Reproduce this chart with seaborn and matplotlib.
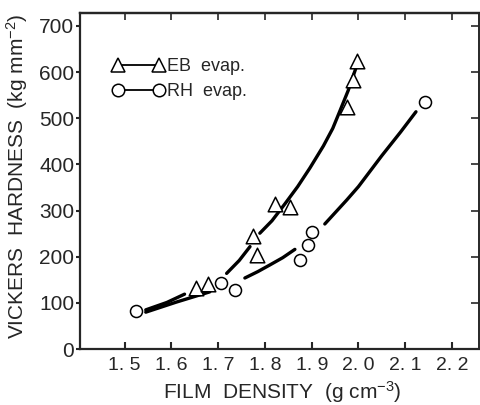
import matplotlib
matplotlib.use("Agg")
import matplotlib.pyplot as plt
from matplotlib.lines import Line2D
import pandas as pd
import seaborn as sns

eb_density = [1.653, 1.678, 1.774, 1.783, 1.821, 1.853, 1.976, 1.989, 1.997]
eb_hardness = [133, 140, 245, 204, 314, 308, 524, 583, 623]
rh_density = [1.524, 1.707, 1.736, 1.875, 1.893, 1.900, 2.142]
rh_hardness = [82, 143, 128, 193, 225, 254, 536]

# hand-drawn guide curves, broken where they pass the markers
eb_curve_x = [1.545, 1.590, 1.628,
              1.718, 1.745, 1.768,
              1.789, 1.815, 1.843, 1.870, 1.896, 1.925, 1.945, 1.960, 1.978, 1.995]
eb_curve_y = [85, 101, 119,
              164, 192, 222,
              251, 278, 315, 352, 392, 440, 478, 515, 560, 610]
eb_curve_seg = [0, 0, 0, 1, 1, 1, 2, 2, 2, 2, 2, 2, 2, 2, 2, 2]
rh_curve_x = [1.545, 1.611, 1.682,
              1.757, 1.785, 1.810, 1.838, 1.864,
              1.928, 1.975, 2.000, 2.050, 2.090, 2.123]
rh_curve_y = [80, 102, 124,
              154, 168, 182, 198, 216,
              271, 323, 352, 419, 470, 514]
rh_curve_seg = [0, 0, 0, 1, 1, 1, 1, 1, 2, 2, 2, 2, 2, 2]

x_ticks = [1.5, 1.6, 1.7, 1.8, 1.9, 2.0, 2.1, 2.2]
x_ticklabels = ["1. 5", "1. 6", "1. 7", "1. 8", "1. 9", "2. 0", "2. 1", "2. 2"]
y_ticks = [0, 100, 200, 300, 400, 500, 600, 700]

sns.set_style("ticks")
plt.rcParams["font.family"] = ["Liberation Sans", "DejaVu Sans"]
plt.rcParams["mathtext.default"] = "regular"

fig = plt.figure(figsize=(4.81, 4.05), dpi=100)
ax = fig.add_axes([0.166, 0.138, 0.830, 0.830])

eb_curve = pd.DataFrame({"x": eb_curve_x, "y": eb_curve_y, "seg": eb_curve_seg})
rh_curve = pd.DataFrame({"x": rh_curve_x, "y": rh_curve_y, "seg": rh_curve_seg})
sns.lineplot(data=eb_curve, x="x", y="y", units="seg", estimator=None, sort=False,
             color="black", lw=2.4, ax=ax)
sns.lineplot(data=rh_curve, x="x", y="y", units="seg", estimator=None, sort=False,
             color="black", lw=2.4, ax=ax)

sns.scatterplot(x=eb_density, y=eb_hardness, marker="^", s=110, fc="white",
                ec="black", linewidth=1.1, zorder=3, ax=ax)
sns.scatterplot(x=rh_density, y=rh_hardness, marker="o", s=75, fc="white",
                ec="black", linewidth=1.1, zorder=3, ax=ax)

ax.set_xlim(1.404, 2.258)
ax.set_ylim(0, 728)
ax.set_xticks(x_ticks)
ax.set_xticklabels(x_ticklabels)
ax.set_yticks(y_ticks)
ax.set_yticklabels([str(v) for v in y_ticks])

ax.tick_params(axis="x", direction="in", length=5, width=1.5, pad=6, labelsize=14)
ax.tick_params(axis="y", direction="out", length=3, width=1.5, pad=1, labelsize=15)

top = ax.secondary_xaxis("top")
top.set_xticks(x_ticks)
top.tick_params(direction="in", length=5, width=1.2, labeltop=False)
right = ax.secondary_yaxis("right")
right.set_yticks(y_ticks)
right.tick_params(direction="in", length=6, width=1.2, labelright=False)

for s in ["left", "bottom", "top"]:
    ax.spines[s].set_linewidth(1.6)
ax.spines["right"].set_linewidth(1.2)
top.spines["top"].set_linewidth(1.6)
right.spines["right"].set_linewidth(1.2)

ax.set_xlabel("FILM  DENSITY  (g cm$^{-3}$)", fontsize=15)
ax.set_ylabel("VICKERS  HARDNESS  (kg mm$^{-2}$)", fontsize=15)
ax.xaxis.set_label_coords(0.507, -0.088)
ax.yaxis.set_label_coords(-0.125, 0.515)

handles = [
    Line2D([0], [0], color="black", lw=1.3, marker="^", ms=10, mfc="white", mec="black", mew=1.1),
    Line2D([0], [0], color="black", lw=1.3, marker="o", ms=9, mfc="white", mec="black", mew=1.1),
]
ax.legend(handles, ["EB  evap.", "RH  evap."], numpoints=2, frameon=False,
          loc="upper left", bbox_to_anchor=(0.081, 0.865), borderpad=0, borderaxespad=0,
          handlelength=2.9, handletextpad=0.15, labelspacing=0.45, fontsize=13)

fig.savefig("out.png", dpi=100)
